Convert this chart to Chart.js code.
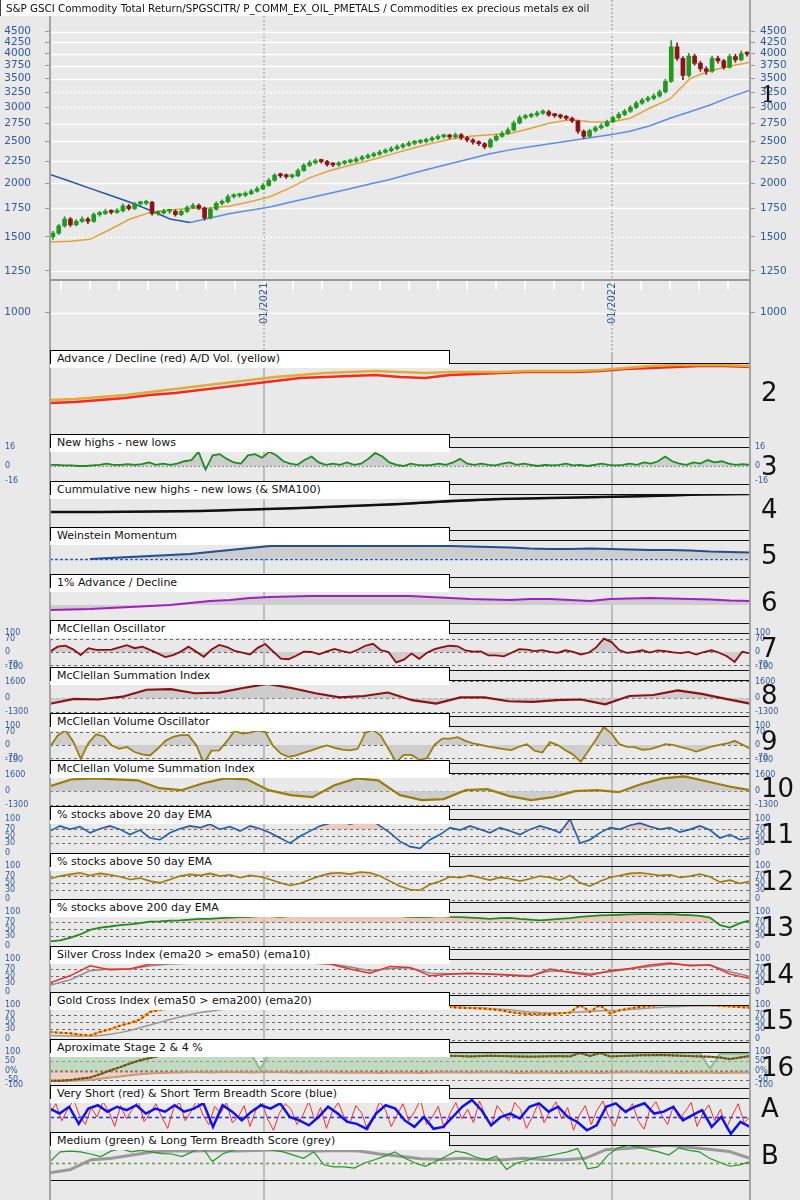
<!DOCTYPE html>
<html>
<head>
<meta charset="utf-8">
<title>Commodities ex precious metals ex oil - breadth</title>
<script src="https://cdn.jsdelivr.net/npm/chart.js@4/dist/chart.umd.min.js"></script>
<style>
  html, body { margin: 0; padding: 0; background: #e9e9e9; }
  #page { position: relative; width: 800px; height: 1200px; overflow: hidden; background: #e9e9e9; font-family: "DejaVu Sans", sans-serif; }
  .pane { position: absolute; left: 0; width: 800px; }
  .pane canvas { display: block; }
  .tab { position: absolute; left: 50px; width: 400px; height: 18px; background: #fff; z-index: 5; }
  .tab .edge { position: absolute; left: 0; top: 0; width: 400px; height: 14px; box-sizing: border-box; border: 1px solid #000; border-bottom: 0; }
  .tab span { position: absolute; left: 7px; top: 2px; font-size: 11px; line-height: 13px; color: #111; white-space: nowrap; }
  .num { position: absolute; left: 761px; font-size: 26px; line-height: 30px; color: #111; z-index: 5; }
  #title { position: absolute; left: 0; top: 0; width: 550px; height: 16px; background: #fff; border-left: 1px solid #444; box-sizing: border-box; z-index: 10; }
  #title span { position: absolute; left: 5px; top: 2px; font-size: 10.3px; line-height: 13px; color: #111; white-space: nowrap; }
</style>
</head>
<body>
<div id="page">
  <div id="title"><span>S&amp;P GSCI Commodity Total Return/SPGSCITR/ P_COMM_EX_OIL_PMETALS / Commodities ex precious metals ex oil</span></div>
</div>
<script>
// time axis in months counted from 01/2020
const XMIN = 4.62, XMAX = 28.76;
const monthTicks = [5, 6, 7, 8, 9, 10, 11, 12, 13, 14, 15, 16, 17, 18, 19, 20, 21, 22, 23, 24, 25, 26, 27, 28];
const janTicks = [12, 24];
const janLabels = ["01/2021", "01/2022"];

const priceTicks = [4500, 4250, 4000, 3750, 3500, 3250, 3000, 2750, 2500, 2250, 2000, 1750, 1500, 1250, 1000];
const dottedPrice = [3250, 3000, 1500];

const priceOpen = [
  1500, 1530, 1590, 1650, 1600, 1630, 1650, 1630, 1690, 1700,
  1720, 1710, 1725, 1770, 1745, 1790, 1795, 1805, 1700, 1705,
  1720, 1720, 1690, 1720, 1755, 1775, 1750, 1660, 1740, 1795,
  1810, 1860, 1870, 1875, 1890, 1915, 1940, 1975, 2030, 2085,
  2080, 2070, 2080, 2140, 2200, 2230, 2250, 2245, 2210, 2205,
  2225, 2240, 2250, 2275, 2295, 2315, 2335, 2360, 2380, 2405,
  2430, 2450, 2475, 2490, 2500, 2520, 2540, 2565, 2575, 2560,
  2590, 2550, 2520, 2490, 2470, 2430, 2520, 2570, 2610, 2660,
  2760, 2840, 2860, 2880, 2910, 2930, 2880, 2870, 2850, 2830,
  2790, 2640, 2570, 2650, 2690, 2720, 2780, 2840, 2890, 2940,
  3000, 3070, 3120, 3150, 3190, 3260, 3450, 4150, 3900, 3560,
  3950, 3800, 3690, 3640, 3900, 3850, 3720, 3940, 3870, 4000
];
const priceClose = [
  1530, 1590, 1650, 1600, 1630, 1650, 1630, 1690, 1700, 1720,
  1710, 1725, 1770, 1745, 1790, 1795, 1805, 1700, 1705, 1720,
  1720, 1690, 1720, 1755, 1775, 1750, 1660, 1740, 1795, 1810,
  1860, 1870, 1875, 1890, 1915, 1940, 1975, 2030, 2085, 2080,
  2070, 2080, 2140, 2200, 2230, 2250, 2245, 2210, 2205, 2225,
  2240, 2250, 2275, 2295, 2315, 2335, 2360, 2380, 2405, 2430,
  2450, 2475, 2490, 2500, 2520, 2540, 2565, 2575, 2560, 2590,
  2550, 2520, 2490, 2470, 2430, 2520, 2570, 2610, 2660, 2760,
  2840, 2860, 2880, 2910, 2930, 2880, 2870, 2850, 2830, 2790,
  2640, 2570, 2650, 2690, 2720, 2780, 2840, 2890, 2940, 3000,
  3070, 3120, 3150, 3190, 3260, 3450, 4150, 3900, 3560, 3950,
  3800, 3690, 3640, 3900, 3850, 3720, 3940, 3870, 4000, 3990
];
const priceHigh = [
  1545, 1605, 1670, 1665, 1645, 1670, 1665, 1705, 1720, 1740,
  1735, 1745, 1790, 1785, 1805, 1815, 1825, 1815, 1725, 1740,
  1740, 1735, 1735, 1770, 1795, 1790, 1760, 1755, 1810, 1830,
  1880, 1890, 1895, 1910, 1935, 1960, 1995, 2050, 2105, 2110,
  2100, 2100, 2160, 2220, 2255, 2275, 2275, 2260, 2230, 2245,
  2260, 2275, 2300, 2320, 2340, 2360, 2385, 2405, 2430, 2455,
  2475, 2500, 2515, 2525, 2545, 2565, 2590, 2600, 2600, 2615,
  2610, 2570, 2540, 2510, 2485, 2540, 2595, 2640, 2690, 2790,
  2870, 2890, 2910, 2940, 2960, 2955, 2905, 2895, 2875, 2850,
  2805, 2660, 2670, 2715, 2750, 2805, 2865, 2920, 2970, 3030,
  3100, 3150, 3185, 3225, 3295, 3490, 4290, 4240, 3940, 4010,
  3990, 3840, 3730, 3950, 3950, 3880, 3990, 3990, 4060, 4040
];
const priceLow = [
  1480, 1520, 1580, 1585, 1590, 1620, 1610, 1620, 1675, 1690,
  1695, 1700, 1715, 1730, 1735, 1775, 1780, 1685, 1685, 1695,
  1700, 1675, 1680, 1710, 1745, 1735, 1640, 1650, 1730, 1780,
  1800, 1845, 1855, 1860, 1880, 1905, 1930, 1965, 2020, 2060,
  2050, 2055, 2070, 2130, 2185, 2215, 2225, 2190, 2185, 2190,
  2210, 2225, 2235, 2260, 2280, 2300, 2320, 2345, 2365, 2390,
  2410, 2435, 2455, 2470, 2480, 2500, 2525, 2545, 2535, 2540,
  2525, 2495, 2465, 2445, 2405, 2415, 2505, 2555, 2595, 2645,
  2745, 2820, 2840, 2860, 2890, 2860, 2845, 2825, 2805, 2765,
  2610, 2540, 2555, 2630, 2670, 2705, 2765, 2820, 2870, 2920,
  2980, 3050, 3095, 3125, 3170, 3240, 3430, 3860, 3480, 3530,
  3760, 3640, 3580, 3620, 3800, 3680, 3700, 3820, 3850, 3950
];
const sma50 = [1460, 1465, 1480, 1560, 1650, 1710, 1735, 1745, 1750, 1770, 1810, 1860, 1950, 2060, 2140, 2200, 2260, 2330,
  2400, 2470, 2530, 2570, 2590, 2610, 2680, 2760, 2810, 2780, 2770, 2830, 2990, 3140, 3500, 3650, 3740, 3820];
const sma200 = [2095, 2020, 1945, 1875, 1805, 1730, 1650, 1620, 1660, 1700, 1730, 1760, 1805, 1850, 1895, 1940, 1990, 2040,
  2100, 2160, 2220, 2280, 2340, 2390, 2430, 2470, 2510, 2550, 2590, 2640, 2720, 2830, 2930, 3040, 3170, 3290];

const adLine = [35, 36, 38, 40, 43, 45, 48, 51, 54, 57, 60, 61, 62, 63, 61, 60, 63, 64, 65, 66, 66, 66, 67, 69, 70, 71, 72, 72, 71];
const adVolLine = [38, 39, 41, 43, 46, 49, 52, 55, 58, 61, 63, 65, 66, 67, 66, 65, 66, 66, 66, 67, 67, 67, 68, 70, 72, 73, 73, 73, 72];

const nhnl = [
  1, 1, 0.5, 0.5, 0, 0, 0.5, 1, 2, 1,
  1, 1.5, 1, 1.5, 3, 1, 2, 1, 2, 4,
  5, 12, -3, 9, 10, 6, 3, 2, 9, 10,
  7, 12, 9, 4, 2, 1, 5, 8, 3, 1,
  2, 1, 3, 1, 2, 6, 11, 8, 3, 1,
  0, 2, 1, 0.5, 1, 2, 1, 3, 6, 2,
  1, 2, 1, 0.5, 2, 3, 1, 2, 1, 0,
  1, 0.5, 1, 2, 0.5, 1, 0, 1, 2, 1,
  0.5, 1, 2, 1, 3, 2, 4, 8, 4, 2,
  1, 3, 2, 5, 3, 4, 2, 1, 1.5, 1
];
const cumNhnl = [19, 19, 19.5, 20, 21.5, 23, 25, 27, 30, 32, 33, 34, 35, 36.5, 37];
const cumNhnlSma = [18.5, 18.8, 19.2, 19.7, 21, 22.5, 24.5, 26.5, 29, 31.5, 32.5, 33.5, 34.5, 36, 36.8];

const weinstein = [null, null, 0, 1, 2, 3, 4, 5, 7, 9, 11, 13, 13, 13, 13, 13, 13, 13, 13, 13, 13,
  12.5, 12, 11.5, 10.5, 10, 10, 10.5, 10, 9.5, 9, 9, 8.5, 7.5, 7, 6.5];
const adv1pct = [-5, -4.5, -4, -3, -2, -1, 0, 2, 4, 5, 7, 8, 8.5, 9, 9, 9, 9, 9, 9, 8, 7, 6, 5.5, 5, 6, 6, 5, 4, 6, 6.5,
  7, 6.5, 6, 5.5, 4.5, 4];

const mcOsc = [
  2, 28, 33, 14, -16, 20, 11, 11, 12, 24, 36, 20, 28, 11, -7, -27, -16, 2, 28, 2,
  -25, 13, 37, 26, 6, -3, -13, 22, 42, 3, -35, -38, -20, 2, 0, -12, 3, 16, 5, -4,
  12, 33, 43, 10, 0, -55, -40, -8, -36, -4, 15, 26, 33, 30, 8, 2, 3, -18, -18, -23,
  -4, 15, 12, 5, 10, 1, -5, 9, 1, -13, -4, 24, 70, 52, 10, -5, 0, 9, -3, 8,
  5, -2, -6, 1, -14, 0, 9, -4, -22, -52, 1, -7
];
const mcSum = [-533, -59, -126, 141, 807, 874, 474, 541, 974, 1374, 974, 474, 74, 207, 541, -192, -525, 74, 74, -292,
  -359, -192, -126, -592, 207, 307, 741, 407, -59, -525];
const mcVolOsc = [
  -10, 50, 76, 20, -73, 10, 56, 45, -1, -20, -10, -37, -49, -55, -20, 22, 43, 52, 52, 0,
  -95, -30, -28, 20, 74, 60, 65, 76, 68, -5, -45, -62, -54, -40, -28, -14, -2, -15, -24, -28,
  -20, 65, 79, 50, -20, -90, -52, -52, -78, -70, 2, 34, 34, 41, 22, 9, 1, -8, -15, -22,
  -27, -8, 4, -30, -40, 15, 0, -28, -50, -88, -30, 30, 95, 60, 5, -10, -11, -25, -22, -10,
  4, 1, -11, -21, -35, -22, -8, 1, 8, 22, 3, -19
];
const mcVolSum = [473, 1135, 1230, 1135, 1040, 284, 95, 757, 1230, 1135, 95, -378, -568, 568, 1230, 1040, -378, -851,
  -757, 95, 189, -473, -851, -568, 0, 95, -95, 662, 1230, 1419, 946, 473, 95];

const above20 = [65, 80, 70, 78, 60, 72, 80, 70, 55, 68, 45, 40, 60, 72, 80, 75, 85, 70, 78, 65, 80, 72, 60, 45, 30,
  50, 65, 80, 88, 95, 85, 92, 98, 80, 60, 35, 20, 15, 40, 55, 75, 68, 80, 70, 60, 75, 65, 55, 70, 80, 72, 60, 100, 30,
  40, 60, 75, 70, 82, 88, 78, 70, 75, 62, 70, 80, 68, 45, 55, 40, 45];
const above50 = [62, 70, 75, 80, 72, 78, 74, 68, 60, 64, 55, 50, 60, 70, 75, 72, 78, 70, 74, 65, 72, 68, 60, 50, 42,
  48, 60, 70, 78, 80, 76, 82, 80, 70, 55, 40, 30, 28, 45, 55, 68, 65, 72, 65, 58, 66, 62, 55, 62, 70, 66, 58, 72, 50,
  40, 55, 66, 72, 78, 80, 76, 72, 74, 66, 70, 76, 68, 52, 58, 48, 55];
const above200 = [15, 18, 25, 35, 48, 55, 58, 62, 64, 68, 72, 73, 75, 76, 78, 80, 80, 82, 84, 85, 86, 88, 88, 86, 88,
  90, 91, 92, 93, 94, 95, 95, 95, 94, 92, 88, 86, 85, 86, 88, 86, 85, 84, 82, 80, 82, 83, 80, 78, 76, 78, 80, 82, 86,
  88, 90, 91, 92, 93, 94, 94, 93, 94, 92, 91, 89, 84, 62, 55, 68, 76];

const silverCross = [29, 50, 80, 68, 70, 85, 87, 88, 94, 92, 90, 88, 90, 88, 85, 70, 58, 78, 75, 50, 55, 58, 55, 52, 48,
  70, 60, 52, 65, 72, 82, 88, 80, 82, 55, 42];
const silverEma = [22, 38, 65, 70, 70, 80, 85, 87, 91, 92, 90, 89, 89, 88, 86, 76, 65, 72, 74, 58, 56, 57, 56, 53, 50,
  64, 62, 56, 62, 70, 78, 85, 82, 82, 62, 48];
const goldCross = [22, 20, 18, 14, 12, 22, 30, 40, 48, 58, 80, 86, 90, 96, 100, 100, 100, 100, 100, 100, 100, 100, 100,
  100, 100, 100, 100, 100, 100, 100, 100, 100, 100, 100, 100, 100, 100, 100, 100, 98, 94, 92, 91, 90, 88, 85, 80, 76,
  74, 73, 74, 76, 78, 100, 80, 100, 76, 85, 90, 95, 97, 100, 100, 100, 100, 99, 100, 98, 96, 94, 92];
const goldEma = [12, 11, 10, 10, 10, 12, 15, 20, 26, 34, 42, 50, 58, 65, 72, 78, 82, 86, 89, 92, 94, 96, 97, 98, 98,
  98, 98, 98, 98, 98, 98, 98, 98, 98, 98, 98, 98, 98, 98, 97, 96, 94, 93, 92, 90, 88, 86, 83, 80, 78, 77, 77, 78, 80,
  81, 83, 84, 85, 87, 89, 91, 93, 95, 96, 97, 98, 98, 98, 97, 96, 95];

const stage2 = [78, 78, 78, 78, 78, 80, 82, 84, 86, 88, 90, 92, 94, 96, 98, 100, 100, 100, 100, 100, 100, 5, 100, 100,
  100, 100, 100, 100, 100, 100, 100, 100, 100, 100, 100, 100, 100, 100, 100, 100, 95, 94, 93, 94, 95, 94, 93, 92, 93,
  94, 95, 94, 93, 95, 96, 95, 94, 95, 96, 95, 94, 95, 96, 95, 94, 93, 10, 92, 90, 91, 92];
const stage4 = [-55, -56, -55, -54, -52, -45, -38, -32, -26, -20, -16, -14, -12, -11, -10, -10, -11, -10, -9, -10, -11,
  -10, -9, -10, -11, -12, -11, -10, -11, -12, -12, -11, -12, -13, -12, -11, -12, -13, -12, -11, -10, -11, -12, -11,
  -10, -11, -12, -13, -12, -11, -12, -13, -12, -11, -12, -13, -12, -11, -10, -11, -12, -11, -12, -13, -12, -11, -12,
  -13, -12, -11, -12];
const stageNet = [-56, -55, -52, -45, -38, -20, 0, 18, 38, 55, 68, 80, 88, 90, 90, 90, 90, 90, 90, 90, 90, 90, 90, 90,
  90, 90, 90, 90, 90, 90, 90, 90, 90, 90, 90, 90, 90, 90, 90, 88, 80, 78, 76, 78, 80, 79, 77, 76, 75, 76, 77, 78, 76,
  95, 78, 95, 76, 78, 80, 82, 83, 84, 82, 80, 78, 76, 74, 70, 62, 70, 78];

const veryShort = [
  60, 85, 40, 70, 95, 55, 30, 75, 50, 90, 65, 25, 80, 45, 70, 92, 38, 60, 85, 50,
  20, 72, 88, 40, 65, 95, 55, 30, 78, 60, 88, 35, 50, 80, 25, 68, 90, 45, 15, 60,
  85, 70, 30, 55, 92, 40, 75, 20, 65, 88, 50, 35, 80, 60, 15, 45, 90, 70, 25, 55,
  85, 40, 65, 95, 30, 50, 78, 20, 60, 88, 45, 70, 35, 92, 55, 25, 80, 60, 40, 88,
  70, 20, 50, 85, 35, 65, 90, 45, 75, 15, 55, 80, 30, 68, 92, 50, 25, 75, 60, 85,
  40, 18, 70, 90, 55, 30, 80, 45, 65, 88, 25, 60, 82, 40, 70, 20, 55, 85, 35, 50
];
const shortTerm = [72, 59, 77, 32, 72, 81, 64, 77, 68, 81, 59, 72, 64, 81, 64, 72, 86, 24, 81, 64, 41, 64, 81, 72, 86,
  50, 41, 28, 50, 77, 59, 37, 32, 19, 59, 81, 72, 41, 24, 50, 19, 24, 50, 77, 95, 68, 28, 50, 59, 46, 77, 86, 64, 77,
  50, 37, 15, 28, 77, 86, 64, 77, 86, 59, 64, 77, 41, 55, 68, 24, 50, 6, 37, 24];
const mediumTerm = [54, 81, 83, 81, 75, 68, 83, 90, 81, 85, 81, 76, 75, 68, 81, 94, 54, 75, 85, 94, 90, 90, 85, 81, 72,
  63, 81, 45, 39, 39, 36, 50, 59, 69, 81, 63, 50, 41, 54, 68, 83, 78, 66, 59, 69, 32, 50, 57, 66, 69, 75, 81, 90, 34,
  39, 72, 92, 99, 94, 87, 81, 72, 92, 85, 81, 63, 52, 41, 45, 54];
const longTerm = [23, 32, 59, 63, 72, 81, 83, 83, 85, 83, 85, 87, 85, 83, 85, 83, 75, 69, 62, 60, 63, 60, 59, 63, 60,
  59, 63, 87, 90, 95, 99, 94, 88, 82, 63];

const titles = [
  "Advance / Decline (red) A/D Vol. (yellow)",
  "New highs - new lows",
  "Cummulative new highs - new lows (& SMA100)",
  "Weinstein Momentum",
  "1% Advance / Decline",
  "McClellan Oscillator",
  "McClellan Summation Index",
  "McClellan Volume Oscillator",
  "McClellan Volume Summation Index",
  "% stocks above 20 day EMA",
  "% stocks above 50 day EMA",
  "% stocks above 200 day EMA",
  "Silver Cross Index (ema20 > ema50) (ema10)",
  "Gold Cross Index (ema50 > ema200) (ema20)",
  "Aproximate Stage 2 & 4 %",
  "Very Short (red) & Short Term Breadth Score (blue)",
  "Medium (green) & Long Term Breadth Score (grey)"
];
const numbers = ["2", "3", "4", "5", "6", "7", "8", "9", "10", "11", "12", "13", "14", "15", "16", "A", "B"];

// layout: top of each panel's title tab
const tabTops = [350, 434, 481, 527, 574, 620, 667, 713, 760, 806, 853, 899, 946, 992, 1039, 1085, 1132];
const lastBottom = 1181;

const page = document.getElementById("page");
Chart.defaults.font.family = "'DejaVu Sans', sans-serif";

const TICK_BLUE = "#2f5b9c";
const GREY_FILL = "#cdcdcd";
const DOT = "#6a6a6a";
const UP = "#1f9a1f", DOWN = "#8b1414";

function spread(vals) {
  const step = (XMAX - XMIN) / (vals.length - 1);
  return vals.map((v, i) => ({ x: XMIN + i * step, y: v }));
}

function greyFill(base) {
  return { target: { value: base }, above: GREY_FILL, below: GREY_FILL };
}

function line(vals, color, width, extra) {
  return Object.assign({
    type: "line", data: spread(vals), borderColor: color, backgroundColor: color,
    borderWidth: width, pointRadius: 0, fill: false, tension: 0
  }, extra || {});
}

function decor(o) {
  return {
    id: "decor",
    beforeDatasetsDraw(chart) {
      const { ctx, chartArea: a, scales } = chart;
      const ys = scales[o.yId || "y"];
      ctx.save();
      ctx.strokeStyle = "#bdbdbd";
      ctx.lineWidth = 2;
      ctx.setLineDash(o.main ? [2, 2] : []);
      janTicks.forEach(m => {
        const x = Math.round(scales.x.getPixelForValue(m));
        ctx.beginPath(); ctx.moveTo(x, 0); ctx.lineTo(x, chart.height); ctx.stroke();
      });
      (o.refs || []).forEach(r => {
        const y = Math.round(ys.getPixelForValue(r.v)) + 0.5;
        ctx.strokeStyle = r.c || DOT;
        ctx.lineWidth = r.w || 1;
        ctx.setLineDash(r.dash || [3, 3]);
        ctx.beginPath(); ctx.moveTo(a.left, y); ctx.lineTo(a.right, y); ctx.stroke();
      });
      ctx.restore();
    },
    afterDatasetsDraw(chart) {
      const { ctx, chartArea: a, scales } = chart;
      const ys = scales[o.yId || "y"];
      ctx.save();
      ctx.setLineDash([]);
      if (o.frame) {
        ctx.strokeStyle = "#111";
        ctx.lineWidth = 1;
        [a.top + 0.5, a.bottom - 0.5].forEach(y => {
          ctx.beginPath(); ctx.moveTo(a.left, y); ctx.lineTo(a.right, y); ctx.stroke();
        });
      }
      ctx.strokeStyle = "#a3a3a3";
      ctx.lineWidth = 2;
      [a.left, a.right].forEach(x => {
        ctx.beginPath(); ctx.moveTo(x, 0); ctx.lineTo(x, chart.height); ctx.stroke();
      });
      if (o.ticks) {
        ctx.fillStyle = TICK_BLUE;
        ctx.font = "8px 'DejaVu Sans'";
        ctx.textAlign = "left";
        ctx.textBaseline = "middle";
        o.ticks.forEach(t => {
          // keep the label inside this panel's canvas
          const y = Math.min(Math.max(ys.getPixelForValue(t.v), 5), a.bottom - 4);
          ctx.fillText(t.t, 5, y);
          ctx.fillText(t.t, a.right + 5, y);
        });
      }
      if (o.main) {
        const ay = 280;
        ctx.strokeStyle = "#9a9a9a";
        ctx.lineWidth = 2;
        ctx.beginPath(); ctx.moveTo(a.left, ay); ctx.lineTo(a.right, ay); ctx.stroke();
        ctx.strokeStyle = "#ffffff";
        monthTicks.forEach(m => {
          const x = Math.round(scales.x.getPixelForValue(m));
          ctx.beginPath(); ctx.moveTo(x, ay + 1); ctx.lineTo(x, ay + 10); ctx.stroke();
        });
        ctx.fillStyle = TICK_BLUE;
        ctx.font = "10px 'DejaVu Sans'";
        ctx.textAlign = "left";
        ctx.textBaseline = "middle";
        janTicks.forEach((m, i) => {
          const x = scales.x.getPixelForValue(m);
          ctx.save();
          ctx.translate(x, 324);
          ctx.rotate(-Math.PI / 2);
          ctx.fillText(janLabels[i], 0, 0);
          ctx.restore();
        });
      }
      ctx.restore();
    }
  };
}

function makeCanvas(top, height) {
  const div = document.createElement("div");
  div.className = "pane";
  div.style.top = top + "px";
  div.style.height = height + "px";
  const cv = document.createElement("canvas");
  cv.width = 800;
  cv.height = height;
  div.appendChild(cv);
  page.appendChild(div);
  return cv;
}

// ---- main price panel ----
const candleStep = (XMAX - XMIN) / priceClose.length;
const candleX = i => XMIN + (i + 0.5) * candleStep;
const bodies = priceClose.map((c, i) => ({ x: candleX(i), y: [priceOpen[i], c] }));
const wicks = priceHigh.map((h, i) => ({ x: candleX(i), y: [priceLow[i], h] }));
const candleColor = c => priceClose[c.dataIndex] >= priceOpen[c.dataIndex] ? UP : DOWN;

function priceAxis(pos, pad) {
  return {
    type: "logarithmic", position: pos, min: 801, max: 5333,
    afterFit: s => { s.width = 50; s.paddingTop = 0; s.paddingBottom = 0; },
    afterBuildTicks: s => { s.ticks = priceTicks.map(v => ({ value: v })); },
    ticks: { color: TICK_BLUE, font: { size: 10.5 }, padding: pad, autoSkip: false, callback: v => String(v) },
    grid: { drawOnChartArea: false, color: "#9a9a9a", tickLength: 5 },
    border: { display: false }
  };
}

new Chart(makeCanvas(0, 354), {
  type: "bar",
  data: {
    datasets: [
      { type: "bar", data: bodies, yAxisID: "yL", barThickness: 4, minBarLength: 2, grouped: false,
        backgroundColor: candleColor, borderWidth: 0 },
      { type: "bar", data: wicks, yAxisID: "yL", barThickness: 1, grouped: false,
        backgroundColor: candleColor, borderWidth: 0 },
      line(sma50, "#e3a33a", 1.5, { yAxisID: "yL" }),
      line(sma200, "#5b8def", 1.5, {
        yAxisID: "yL",
        segment: { borderColor: c => c.p1.parsed.y < c.p0.parsed.y ? "#2456a8" : "#5b8def" }
      })
    ]
  },
  options: {
    responsive: false, animation: false, devicePixelRatio: 1,
    layout: { padding: 0, autoPadding: false },
    scales: {
      x: { type: "linear", min: XMIN, max: XMAX, offset: false, display: false },
      yL: priceAxis("left", 14),
      yR: priceAxis("right", 5)
    },
    plugins: { legend: { display: false }, tooltip: { enabled: false } }
  },
  plugins: [decor({
    main: true, yId: "yL",
    refs: priceTicks.map(v => ({ v: v, c: "#ffffff", w: 1.5, dash: dottedPrice.includes(v) ? [2, 2] : [] }))
  })]
});

// ---- indicator panels ----
const oscTicks = [{ v: 100, t: "100" }, { v: 70, t: "70" }, { v: 0, t: "0" }, { v: -70, t: "-70" }, { v: -100, t: "-100" }];
const sumTicks = [{ v: 1600, t: "1600" }, { v: 0, t: "0" }, { v: -1300, t: "-1300" }];
const pctTicks = [{ v: 100, t: "100" }, { v: 70, t: "70" }, { v: 50, t: "50" }, { v: 30, t: "30" }, { v: 0, t: "0" }];
const stageTicks = [{ v: 100, t: "100" }, { v: 50, t: "50" }, { v: 0, t: "0%" }, { v: -50, t: "-50" }, { v: -100, t: "-100" }];
const nhnlTicks = [{ v: 16, t: "16" }, { v: 0, t: "0" }, { v: -16, t: "-16" }];

const oscRefs = [{ v: 70 }, { v: 0 }, { v: -70 }];
const sumRefs = [{ v: 1600 }, { v: 0 }, { v: -1300 }];
const pctRefs = [{ v: 70 }, { v: 50 }, { v: 30 }, { v: 0 }];
const SALMON = { target: { value: 70 }, above: "rgba(240,175,155,0.55)", below: "rgba(0,0,0,0)" };

const panels = [
  { min: 0, max: 75, datasets: [line(adVolLine, "#e2aa36", 2.5), line(adLine, "#f42a22", 2.5)] },
  { min: -16, max: 16, ticks: nhnlTicks, refs: [{ v: 0, c: "#8a8a8a", dash: [2, 2] }],
    datasets: [line(nhnl, "#1e8c1e", 1.8, { fill: greyFill(0) })] },
  { min: 0, max: 37, datasets: [line(cumNhnl, "#111111", 2.5), line(cumNhnlSma, "#4a5a4a", 1.2)] },
  { min: -19, max: 19, refs: [{ v: 0, c: "#2a5ad0", w: 1.5, dash: [3, 2] }],
    datasets: [line(weinstein, "#1f4e96", 2, { fill: greyFill(0) })] },
  { min: -19, max: 18, datasets: [line(adv1pct, "#a21ec4", 2, { fill: greyFill(0) })] },
  { min: -100, max: 100, ticks: oscTicks, refs: oscRefs,
    datasets: [line(mcOsc, "#8b0f0f", 1.8, { fill: greyFill(0) })] },
  { min: -1800, max: 1740, ticks: sumTicks, refs: sumRefs,
    datasets: [line(mcSum, "#8b1212", 2.2, { fill: greyFill(0) })] },
  { min: -100, max: 100, ticks: oscTicks, refs: oscRefs,
    datasets: [line(mcVolOsc, "#9b7d0c", 1.8, { fill: greyFill(0) })] },
  { min: -1800, max: 1740, ticks: sumTicks, refs: sumRefs,
    datasets: [line(mcVolSum, "#9b7d0c", 2.2, { fill: greyFill(0) })] },
  { min: -10, max: 100, ticks: pctTicks, refs: pctRefs,
    datasets: [line(above20, "#2060a8", 1.6, { fill: SALMON })] },
  { min: -10, max: 100, ticks: pctTicks, refs: pctRefs,
    datasets: [line(above50, "#9b7d0c", 1.6, { fill: SALMON })] },
  { min: -10, max: 100, ticks: pctTicks, refs: pctRefs,
    datasets: [line(above200, "#1e8c1e", 1.8, { fill: SALMON })] },
  { min: -10, max: 100, ticks: pctTicks, refs: pctRefs,
    datasets: [line(silverCross, "#e8312a", 1.5), line(silverEma, "#8c8c8c", 1.5)] },
  { min: -10, max: 100, ticks: pctTicks, refs: pctRefs,
    datasets: [
      line(goldCross, "#d42020", 2, { borderDash: [2, 3] }),
      line(goldCross, "#e8b400", 2),
      line(goldEma, "#999999", 1.5)
    ] },
  { min: -100, max: 100, ticks: stageTicks,
    refs: [{ v: 50 }, { v: -50 }, { v: 0, c: "#111", w: 2, dash: [3, 2] }],
    datasets: [
      line(stageNet, "#d01818", 2, { borderDash: [2, 2] }),
      line(stageNet, "#2a9a2a", 2),
      line(stage2, "#8cbf8c", 2, { fill: { target: { value: 0 }, above: "rgba(160,205,160,0.55)", below: "rgba(160,205,160,0.55)" } }),
      line(stage4, "#c89878", 2, { fill: { target: { value: 0 }, above: "rgba(240,190,170,0.6)", below: "rgba(240,190,170,0.6)" } })
    ] },
  { min: 0, max: 100, refs: [{ v: 50, c: "#2233ee", w: 1.5, dash: [4, 3] }],
    datasets: [line(shortTerm, "#1010f0", 2.5), line(veryShort, "#ff2a2a", 1)] },
  { min: 0, max: 100, refs: [{ v: 50, c: "#6a9a4a", w: 1.5, dash: [3, 3] }],
    datasets: [line(mediumTerm, "#229922", 1.2), line(longTerm, "#999999", 3)] }
];

panels.forEach((p, j) => {
  const top = tabTops[j] + 4;
  const last = j === panels.length - 1;
  const plotBottom = last ? lastBottom : tabTops[j + 1] + 4;
  const height = last ? 1200 - top : plotBottom - top;
  new Chart(makeCanvas(top, height), {
    type: "line",
    data: { datasets: p.datasets },
    options: {
      responsive: false, animation: false, devicePixelRatio: 1,
      layout: { padding: { left: 50, right: 50, top: 9, bottom: last ? 1200 - plotBottom : 0 }, autoPadding: false },
      scales: {
        x: { type: "linear", min: XMIN, max: XMAX, display: false },
        y: { min: p.min, max: p.max, display: false }
      },
      plugins: { legend: { display: false }, tooltip: { enabled: false } }
    },
    plugins: [decor({ frame: true, refs: p.refs, ticks: p.ticks })]
  });
});

// title tabs and panel numbers
titles.forEach((t, j) => {
  const tab = document.createElement("div");
  tab.className = "tab";
  tab.style.top = tabTops[j] + "px";
  const edge = document.createElement("div");
  edge.className = "edge";
  const span = document.createElement("span");
  span.textContent = t;
  tab.appendChild(edge);
  tab.appendChild(span);
  page.appendChild(tab);

  const num = document.createElement("div");
  num.className = "num";
  let cy = tabTops[j] + 28;
  if (j === 0) cy = 392;
  if (j === 1) cy = 466;
  if (j >= 15) cy = tabTops[j] + 23;
  num.style.top = (cy - 15) + "px";
  num.textContent = numbers[j];
  page.appendChild(num);
});

const one = document.createElement("div");
one.className = "num";
one.style.top = "80px";
one.style.fontFamily = "'DejaVu Serif', serif";
one.style.fontSize = "22px";
one.textContent = "1";
page.appendChild(one);
</script>
</body>
</html>
